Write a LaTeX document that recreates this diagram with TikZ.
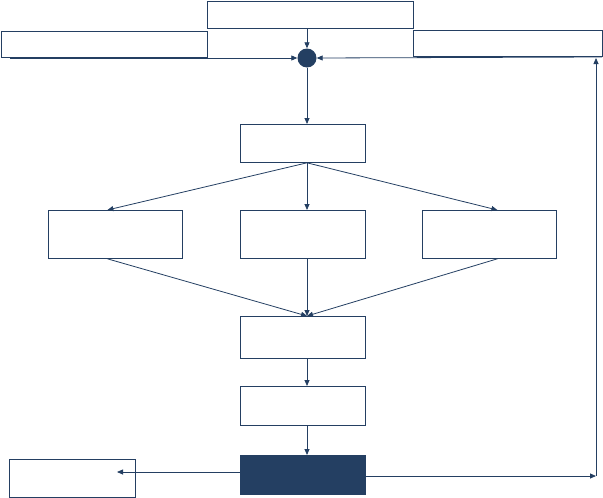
\documentclass[tikz,border=0pt]{standalone}
\usetikzlibrary{arrows.meta,calc}
\definecolor{navy}{HTML}{243F62}
\begin{document}
\begin{tikzpicture}[x=1pt,y=-1pt,
  box/.style={draw=navy,line width=0.8pt,fill=white,inner sep=0pt,anchor=north west},
  conn/.style={draw=navy,line width=0.8pt,-{Triangle[length=6pt,width=5pt]}},
  plain/.style={draw=navy,line width=0.8pt}]
\useasboundingbox (0,0) rectangle (603,498);
% top boxes
\node[box,minimum width=206pt,minimum height=27pt] (top) at (207,1) {};
\node[box,minimum width=206pt,minimum height=26pt] (lft) at (1,31) {};
\node[box,minimum width=189pt,minimum height=26pt] (rgt) at (413,30) {};
% summing junction
\node[circle,fill=navy,minimum size=19pt,inner sep=0pt] (sum) at (307,58) {};
\coordinate (lin) at (10,58);
\coordinate (rin) at (602,57);
% chain
\node[box,minimum width=125pt,minimum height=38pt] (b1) at (240,124) {};
\node[box,minimum width=134pt,minimum height=48pt] (r1) at (48,210) {};
\node[box,minimum width=125pt,minimum height=48pt] (r2) at (240,210) {};
\node[box,minimum width=134pt,minimum height=48pt] (r3) at (422,210) {};
\node[box,minimum width=125pt,minimum height=42pt] (b3) at (240,316) {};
\node[box,minimum width=125pt,minimum height=39pt] (b4) at (240,386) {};
\node[box,fill=navy,minimum width=125pt,minimum height=39pt] (b5) at (240,455) {};
\node[box,minimum width=126pt,minimum height=38pt] (out) at (9,459) {};
\coordinate (sp) at (307,0);
\coordinate (fbc) at (596,476);
\coordinate (outtip) at (117,472);
% connectors
\draw[conn] (top.south -| sum) -- (sum.north);
\draw[conn] (lin) -- (sum.west);
\draw[conn] (rin) -- (sum.east);
\draw[conn] (sum.south) -- (b1.north -| sp);
\draw[conn] (b1.south -| sp) -- ([xshift=-8pt]r1.north);
\draw[conn] (b1.south -| sp) -- (r2.north -| sp);
\draw[conn] (b1.south -| sp) -- ([xshift=8pt]r3.north);
\draw[conn] ([xshift=-8pt]r1.south) -- (b3.north -| sp);
\draw[conn] (r2.south -| sp) -- (b3.north -| sp);
\draw[conn] ([xshift=8pt]r3.south) -- (b3.north -| sp);
\draw[conn] (b3.south -| sp) -- (b4.north -| sp);
\draw[conn] (b4.south -| sp) -- (b5.north -| sp);
\draw[conn] (b5.west |- outtip) -- (outtip);
\draw[conn] (b5.east |- fbc) -- (fbc);
\draw[conn] (fbc) -- (596,58);
\end{tikzpicture}
\end{document}
